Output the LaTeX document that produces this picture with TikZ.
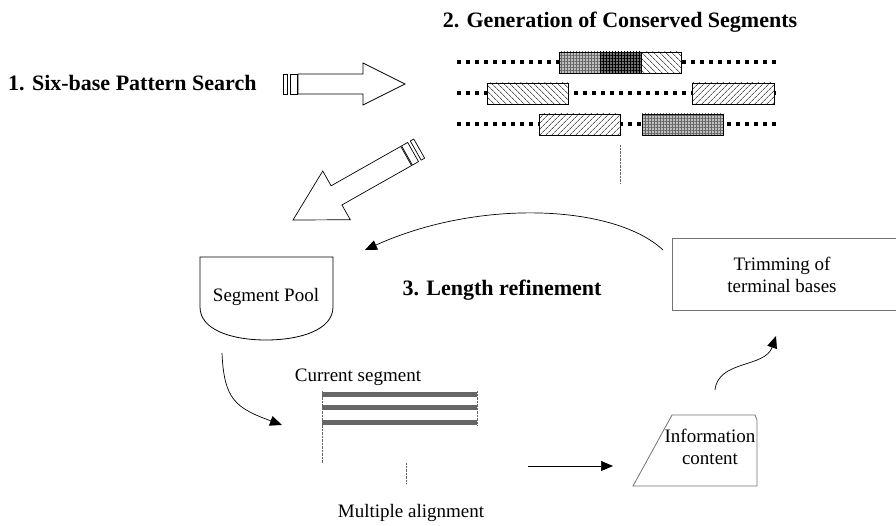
\documentclass[tikz,border=0pt]{standalone}
\usepackage{fontspec}
\setmainfont{Liberation Serif}
\usetikzlibrary{arrows.meta}
\usetikzlibrary{patterns.meta}

\tikzset{
  heading/.style={font=\fontsize{22}{26}\selectfont\bfseries, inner sep=0pt},
  lbl/.style={font=\fontsize{19}{22}\selectfont, inner sep=0pt, align=center},
  blk/.style={draw, line width=0.7pt},
  greyline/.style={draw=black!55, line width=0.8pt},
  dotrow/.style={line width=4pt, dash pattern=on 4pt off 5pt},
  seg/.style={draw, line width=0.8pt, preaction={fill=white}},
  hatchdown/.style={pattern={Lines[angle=-45,distance=4pt,line width=0.6pt]}},
  hatchup/.style={pattern={Lines[angle=45,distance=4pt,line width=0.6pt]}},
  gridlight/.style={preaction={fill=black!25}, pattern={Hatch[distance=3pt,line width=0.4pt]}, pattern color=black!60},
  griddark/.style={preaction={fill=black!55}, pattern={Hatch[distance=3pt,line width=0.4pt]}, pattern color=black},
  conn/.style={-{Triangle[length=12pt,width=10pt]}, line width=0.7pt}
}

\begin{document}
\begin{tikzpicture}[x=1pt,y=-1pt]
        \useasboundingbox (0,0) rectangle (896,526);

        \node[heading, anchor=west] (search) at (8,83) {1. Six-base Pattern Search};
        \node[heading] (gen) at (620,22) {2. Generation of Conserved Segments};
        \node[heading] (refine) at (502,290) {3. Length refinement};

        % block arrow to the segments
        \begin{scope}[shift={(405,84)}]
            \draw[blk] (0,0) -- (-42,-21) -- (-42,-10) -- (-107,-10) -- (-107,10) -- (-42,10) -- (-42,21) -- cycle;
            \draw[blk] (-108,-10) rectangle (-115,10);
            \draw[blk] (-118,-10) rectangle (-122,10);
        \end{scope}

        % conserved segments
        \foreach \y in {62,93,124}
            \draw[dotrow] (457,\y) -- (779,\y);
        \path[seg, gridlight] (559,52) rectangle (600,73);
        \path[seg, griddark] (600,52) rectangle (641,73);
        \path[seg, hatchdown] (641,52) rectangle (681,73);
        \path[seg, hatchdown] (487,83) rectangle (568,104);
        \path[seg, hatchup] (692,83) rectangle (774,104);
        \path[seg, hatchup] (539,114) rectangle (620,135);
        \path[seg, gridlight] (642,114) rectangle (723,135);
        \draw[black!60, densely dotted] (620,145) -- (620,183);

        % block arrow to the pool
        \begin{scope}[shift={(293,220)}, rotate=209.5]
            \draw[blk] (0,0) -- (-50,-28) -- (-50,-11) -- (-130,-11) -- (-130,11) -- (-50,11) -- (-50,28) -- cycle;
            \draw[blk] (-131,-11) rectangle (-138,11);
            \draw[blk] (-141,-11) rectangle (-145,11);
        \end{scope}

        % segment pool
        \draw[line width=0.8pt] (200,257) -- (333,257) -- (333,307)
            .. controls (333,330) and (300,340) .. (266,340)
            .. controls (232,340) and (200,330) .. (200,307) -- cycle;
        \node[lbl] (pool) at (266,297) {Segment Pool};

        % trimming box
        \draw[greyline] (896,238) -- (672,238) -- (672,310) -- (896,310);
        \node[lbl] (trim) at (782,275) {Trimming of\\terminal bases};

        % multiple alignment
        \node[lbl] (curseg) at (358,377) {Current segment};
        \foreach \y in {394,407,422}
            \fill[black!60] (322,\y-2.5) rectangle (477,\y+2.5);
        \draw[black!60, densely dotted] (322,391) -- (322,463);
        \draw[black!60, densely dotted] (477,391) -- (477,425);
        \draw[black!60, densely dotted] (406,463) -- (406,484);
        \node[lbl] (multi) at (411,513) {Multiple alignment};

        % information content
        \draw[greyline] (672,415) -- (755,415) -- (757,420) -- (757,486) -- (633,486) -- cycle;
        \node[lbl] (info) at (710,447) {Information\\content};

        % connectors
        \coordinate (trimout) at (663,250);
        \coordinate (poolin) at (365,250);
        \coordinate (poolout) at (222,353);
        \coordinate (alignin) at (282,425);
        \coordinate (alignout) at (528,466);
        \coordinate (infoin) at (613,466);
        \coordinate (infoout) at (715,390);
        \coordinate (trimin) at (776,336);
        \draw[conn] (trimout) .. controls (615,205) and (480,198) .. (poolin);
        \draw[conn] (poolout) .. controls (224,400) and (236,408) .. (alignin);
        \draw[conn] (alignout) -- (infoin);
        \draw[conn] (infoout) .. controls (718,360) and (765,368) .. (trimin);
\end{tikzpicture}
\end{document}
